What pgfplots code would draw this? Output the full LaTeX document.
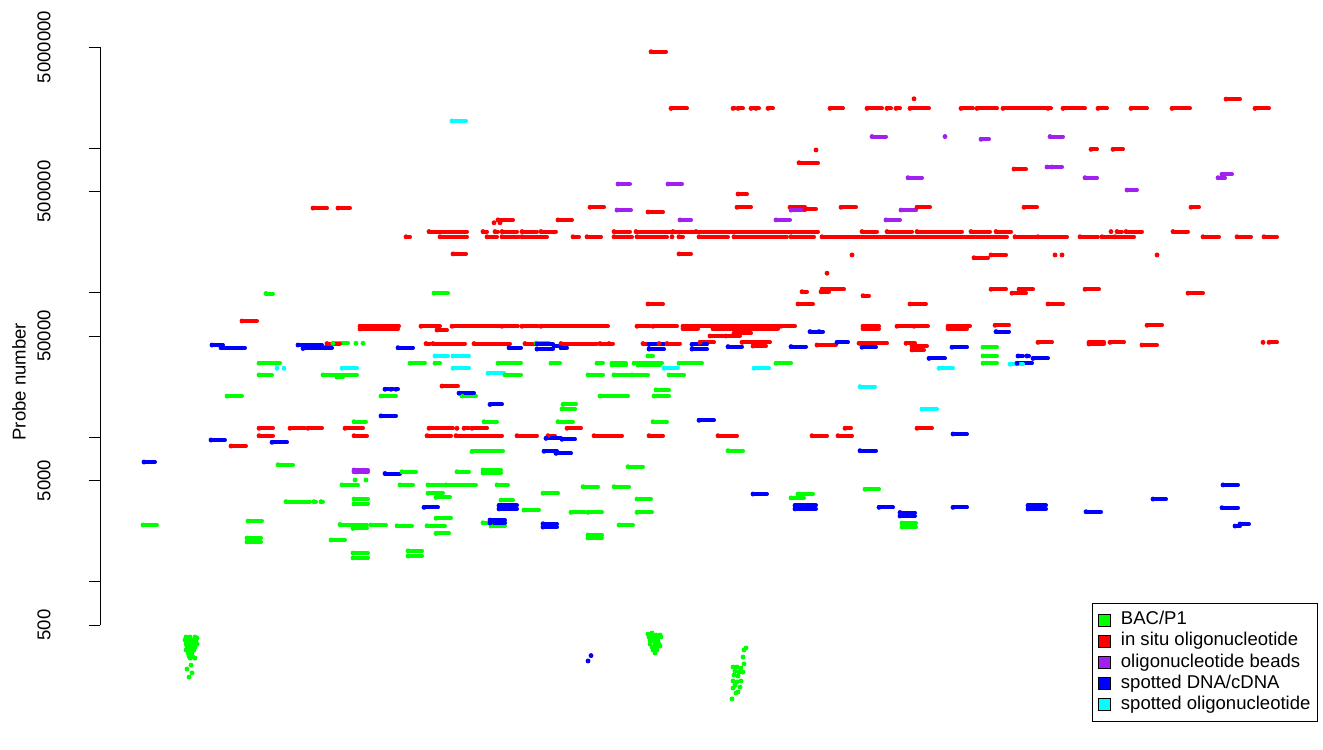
\documentclass[border=0pt]{standalone}
\usepackage{fontspec}
\setmainfont{Liberation Sans}
\usepackage{pgfplots}
\pgfplotsset{compat=1.18}
\definecolor{cgreen}{HTML}{00FF00}
\definecolor{cred}{HTML}{FF0000}
\definecolor{cpurple}{HTML}{A020F0}
\definecolor{cblue}{HTML}{0000FF}
\definecolor{ccyan}{HTML}{00FFFF}
\pgfplotsset{
  seg/.style={only marks, mark=*, mark size=1bp, color=#1, mark options={draw=none, fill=#1}, forget plot,
    error bars/.cd, x dir=plus, x explicit, error mark=none,
    error bar style={line width=2bp, line cap=round, color=#1}},
  legsq/.style={legend image code/.code={\draw[##1, draw=black, line width=0.4bp] (0bp,-3bp) rectangle (6bp,3bp); \path[draw=none, fill=none] (0bp,0bp) -- (10.5bp,0bp);}},
}
\newcommand{\fs}{\fontsize{9.3}{11}\selectfont}
\begin{document}
\begin{tikzpicture}
\begin{axis}[name=ax, scale only axis, width=609bp, height=348bp,
  xmin=100, xmax=1318, ymode=log, ymin=106.6, ymax=6990000,
  axis x line=none, axis y line=left, axis line style={draw=none},
  ytick={500,1000,5000,10000,50000,100000,500000,1000000,5000000},
  yticklabels={500,,5000,,50000,,500000,,5000000},
  yminorticks=false, tick align=outside, ytick pos=left,
  major tick length=5.5bp, tick style={line width=0.5bp, black},
  /pgf/number format/assume math mode=true,
  font=\fs, tick label style={font=\fs},
  yticklabel style={inner sep=0pt, xshift=-19bp, rotate=90, anchor=south},
  ylabel={Probe number}, xlabel={GEO arrays, 2001–2011 (sorted by accession no.)},
  every axis y label/.style={at={(axis description cs:-0.0665,0.489)}, rotate=90, anchor=center, font=\fs},
  every axis x label/.style={at={(axis description cs:0.499,-0.023)}, anchor=center, font=\fs},
  clip=false,
  legend cell align=left,
  legend style={at={(1,0)}, anchor=south east, draw=black, line width=0.5bp, font=\fs,
    inner xsep=2.5bp, inner ysep=3bp, row sep=0bp,
    nodes={inner sep=1bp, text height=6.6bp, text depth=2bp}},
]
\draw[line width=0.5bp] (axis cs:100,500) -- (axis cs:100,5000000);
% BAC/P1
\addplot[seg=cgreen] table[x=x, y=y, x error=w] {
x y w
266 98400 7
434 99000 14
333 44500 15
356 44500 0
363 44500 0
259 32400 14
276 32400 4
259 26900 13
323 26900 34
337 26000 6
227 19200 15
381 19200 15
354 12760 12
278 6430 15
355 5040 0
366 5040 0
342 4660 16
286 3570 24
314 3570 2
321 3570 2
354 3720 14
354 3440 14
248 2620 14
143 2460 14
340 2480 27
353 2330 14
371 2460 15
397 2430 15
247 2000 14
247 1880 14
331 1940 14
353 1575 15
353 1455 15
410 32400 15
435 32400 5
498 32400 23
551 32400 9
597 32400 6
612 32400 14
612 31500 14
634 32400 28
638 31500 22
679 32400 23
776 32400 15
536 44700 13
648 36400 5
505 26900 16
588 26900 15
614 26900 16
632 26900 16
669 26900 15
462 19200 14
600 19200 28
654 19200 15
656 21200 13
563 16800 13
562 15600 13
484 12760 13
558 12760 15
653 12760 14
472 7940 31
628 6230 15
402 5750 14
457 5750 12
483 5910 18
483 5640 18
400 4660 13
428 4660 15
446 4660 30
497 4660 11
583 4530 15
614 4530 15
428 4080 15
543 4080 15
436 3820 14
501 3660 12
637 3720 14
524 3120 15
571 3010 14
588 3010 14
637 3010 15
436 2740 15
483 2550 22
491 2420 14
427 2430 18
619 2460 14
436 2150 13
588 2100 14
588 2000 14
408 1630 14
408 1500 14
798 4030 15
791 3790 13
865 4350 14
902 2540 14
902 2380 14
728 8040 15
983 41800 14
983 36400 14
983 32400 14
186 413 0
190 413 0
195 413 0
197 406 0
185 394 0
188 387 0
192 394 0
196 387 0
186 369 0
190 369 0
194 375 0
197 369 0
187 352 0
191 352 0
195 352 0
186 336 0
190 336 0
194 336 0
188 320 0
192 320 0
189 305 0
193 300 0
190 295 0
195 295 0
191 264 0
187 248 0
192 233 0
189 218 0
648 433 0
652 440 0
656 426 0
660 426 0
649 413 0
653 413 0
657 406 0
661 413 0
650 394 0
654 387 0
658 387 0
650 369 0
655 369 0
659 369 0
652 352 0
656 352 0
660 358 0
653 336 0
657 336 0
655 320 0
746 347 0
744 336 0
743 300 0
744 269 0
733 256 0
737 256 0
741 252 0
735 240 0
739 236 0
743 236 0
734 225 0
738 222 0
733 205 0
737 202 0
741 205 0
735 192 0
740 186 0
733 183 0
736 169 0
738 172 0
732 154 0
};
% in situ oligonucleotide
\addplot[seg=cred] table[x=x, y=y, x error=w] {
x y w
651 4640000 15
671 1880000 16
733 1880000 2
738 1880000 5
751 1880000 3
756 1880000 3
768 1880000 5
830 1880000 13
867 1880000 15
887 1880000 4
896 1880000 4
910 1880000 19
961 1880000 12
977 1880000 20
1003 1880000 43
1048 1880000 3
1063 1880000 22
1098 1880000 9
1131 1880000 16
1172 1880000 18
1255 1880000 14
914 2190000 0
1226 2180000 14
816 969000 0
799 791000 19
1091 979000 6
1113 979000 10
1014 715000 12
738 480000 9
313 384000 14
338 384000 12
590 389000 14
648 361000 15
737 389000 14
790 389000 15
841 389000 15
917 389000 13
1024 389000 13
1191 389000 8
805 378000 11
498 318000 15
558 318000 14
494 304000 0
500 304000 0
429 264000 38
483 264000 4
495 264000 3
502 264000 15
522 264000 15
541 264000 15
614 264000 16
636 264000 36
673 264000 22
696 264000 122
862 264000 15
887 264000 25
917 264000 45
971 264000 19
996 264000 15
1111 264000 0
1117 264000 5
1126 264000 16
1173 264000 15
406 243000 4
440 243000 27
487 243000 10
502 243000 17
522 243000 25
573 243000 6
587 243000 14
614 243000 18
637 243000 30
672 243000 0
679 243000 4
699 243000 29
734 243000 53
791 243000 23
822 243000 185
1015 243000 21
1038 243000 29
1080 243000 18
1102 243000 12
1115 243000 19
1203 243000 16
1237 243000 14
1264 243000 13
453 185000 13
679 185000 12
852 182000 0
974 174000 14
991 182000 15
1055 182000 0
1062 182000 0
1157 182000 0
827 136000 0
822 105300 22
802 101300 5
821 101300 8
863 95000 6
798 83300 15
910 83300 16
648 83300 15
1048 83300 15
991 105300 15
1019 105300 14
1085 105300 14
1012 99000 14
1188 99000 15
242 63500 15
360 58400 15
377 58400 22
421 58400 19
452 58400 48
502 58400 16
522 58400 16
541 58400 67
637 58400 13
653 58400 24
683 58400 28
713 58400 66
781 58400 14
863 58400 16
897 58400 15
914 58400 14
948 58400 22
995 59300 14
1147 59300 15
360 55900 38
683 56200 15
713 56200 65
863 56200 16
948 56200 19
437 55000 10
734 52200 17
710 50000 14
726 50000 14
327 44300 13
426 44300 4
433 44300 32
474 44300 36
525 44300 23
561 44300 36
600 44300 7
609 44300 4
643 44300 15
659 44300 5
667 44300 13
700 45200 14
742 45200 15
759 45200 11
753 42600 13
817 43300 19
859 44500 28
906 44500 9
912 42600 15
912 40000 12
1038 45200 14
1089 45200 15
1089 44000 15
1110 45200 14
1263 45200 0
1269 45200 8
1142 43300 15
442 22500 16
259 11490 14
290 11490 15
308 11490 14
345 11490 18
429 11490 24
457 11490 0
464 11490 5
472 11490 15
567 11490 14
845 11490 6
917 11490 15
259 10210 14
354 10210 13
427 10210 24
456 10210 46
517 10210 20
548 10210 7
594 10210 28
649 10210 14
718 10210 19
812 10210 15
838 10210 14
231 8660 15
};
% oligonucleotide beads
\addplot[seg=cpurple] table[x=x, y=y, x error=w] {
x y w
618 563000 12
668 563000 14
617 372000 14
680 318000 11
872 1200000 14
945 1200000 0
908 623000 14
791 372000 14
901 372000 15
776 318000 14
886 318000 14
981 1149000 8
1050 1200000 13
1047 739000 3
1052 739000 10
1085 623000 12
1127 512000 10
1222 658000 10
1218 623000 7
354 5910 14
354 5750 14
};
% spotted DNA/cDNA
\addplot[seg=cblue] table[x=x, y=y, x error=w] {
x y w
144 6710 11
212 43300 11
221 41500 24
298 43300 24
303 41000 20
325 41500 7
398 41500 15
385 21400 3
391 21400 2
396 21400 2
381 14000 15
211 9530 14
272 9190 15
385 5590 15
509 41500 12
537 44000 16
537 40600 16
554 42600 4
561 41500 6
649 43700 15
649 40600 15
459 20100 15
490 16800 12
546 9790 15
562 9640 13
544 7970 13
556 7710 15
424 3260 14
499 3360 18
499 3180 18
490 2660 15
490 2540 15
543 2510 14
543 2380 14
588 282 0
591 307 0
692 43700 15
692 40600 15
728 42200 14
791 42200 15
837 45200 11
862 41800 14
952 41800 15
929 35000 16
810 53600 7
819 53600 4
699 13050 15
953 10490 14
860 8040 16
753 4030 14
795 3360 21
795 3180 21
879 3260 14
900 3000 15
900 2840 15
953 3260 14
1028 3360 18
1028 3180 18
1086 3040 15
1153 3720 13
1223 4660 15
1222 3240 16
1235 2420 5
1240 2500 9
996 53600 13
1018 36400 5
1027 36400 2
1033 35000 15
1017 32400 15
};
% spotted oligonucleotide
\addplot[seg=ccyan] table[x=x, y=y, x error=w] {
x y w
452 1540000 14
277 29900 0
284 29900 0
342 29900 15
435 36400 13
453 36400 16
453 29900 16
488 27600 16
664 29900 14
754 29900 15
939 29900 14
860 22300 15
922 15600 15
1010 31900 13
};
\addlegendimage{legsq, fill=cgreen}
\addlegendentry{BAC/P1}
\addlegendimage{legsq, fill=cred}
\addlegendentry{in situ oligonucleotide}
\addlegendimage{legsq, fill=cpurple}
\addlegendentry{oligonucleotide beads}
\addlegendimage{legsq, fill=cblue}
\addlegendentry{spotted DNA/cDNA}
\addlegendimage{legsq, fill=ccyan}
\addlegendentry{spotted oligonucleotide}
\end{axis}
\pgfresetboundingbox
\path[use as bounding box] ([shift={(-50bp,-14bp)}]ax.south west) rectangle ([shift={(2.5bp,13bp)}]ax.north east);
\end{tikzpicture}
\end{document}
